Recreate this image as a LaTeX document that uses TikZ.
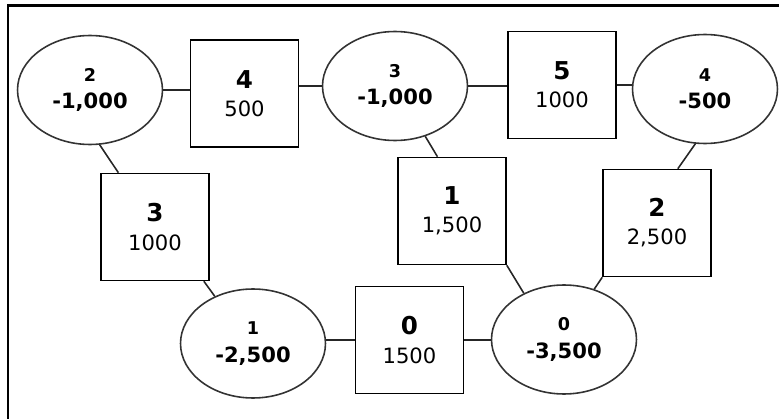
\documentclass[tikz,border=0pt]{standalone}
\usepackage{fontspec}
\setmainfont{DejaVu Sans}
\usepackage{tikz}
\usetikzlibrary{positioning,shapes.geometric,calc}
\tikzset{
	net/.style={x=0.02cm,y=-0.02cm,line width=0.9pt},
	city/.style={ellipse,draw=black!80,line width=0.9pt,minimum width=2.9cm,minimum height=2.18cm,
		inner sep=0pt,align=center,font=\fontsize{12}{15.5}\selectfont\bfseries},
	link/.style={rectangle,draw,line width=0.9pt,minimum width=2.16cm,minimum height=2.14cm,
		inner sep=0pt,align=center,font=\fontsize{12}{16}\selectfont},
	wire/.style={draw=black!85,line width=0.9pt}
}
\newcommand{\cityid}[1]{{\fontsize{10}{15.5}\selectfont #1}}
\newcommand{\linkid}[1]{{\fontsize{14}{16}\selectfont\bfseries #1}}

\begin{document}
\begin{tikzpicture}[net]
	\useasboundingbox (0,0) rectangle (779,419);
	\draw[line width=2pt] (779,5.5) -- (8,5.5);
	\draw[line width=1.5pt] (8,4.5) -- (8,419);
	
	\node[city] (e2) at (90,90) {\cityid{2}\\-1,000};
	\node[link] (b4) at (244.5,93.5) {\linkid{4}\\500};
	\node[city] (e3) at (395,86) {\cityid{3}\\-1,000};
	\node[link] (b5) at (562,85) {\linkid{5}\\1000};
	\node[city] (e4) at (705,89) {\cityid{4}\\-500};
	\node[link] (b3) at (155,227) {\linkid{3}\\1000};
	\node[link] (b1) at (452,211) {\linkid{1}\\1,500};
	\node[link] (b2) at (657,223) {\linkid{2}\\2,500};
	\node[city] (e1) at (253,343.5) {\cityid{1}\\-2,500};
	\node[link] (b0) at (409.5,340) {\linkid{0}\\1500};
	\node[city] (e0) at (564,339.5) {\cityid{0}\\-3,500};
	
	\path[wire] (e2) edge (e2 -| b4.west);
	\path[wire] (e3) edge (e3 -| b4.east);
	\path[wire] (e3) edge (e3 -| b5.west);
	\path[wire] (b5) edge (b5 -| e4.west);
	\path[wire] (e2.280) edge (b3.124);
	\path[wire] (b3.312) edge (e1.129);
	\path[wire] (e3.301) edge (b1.105);
	\path[wire] (b1.south east) edge (e0.131);
	\path[wire] (e4.260) edge (b2.69);
	\path[wire] (b2.south west) edge (e0.59);
	\path[wire] (b0) edge (b0 -| e1.east);
	\path[wire] (b0) edge (b0 -| e0.west);
	
\end{tikzpicture}
\end{document}
